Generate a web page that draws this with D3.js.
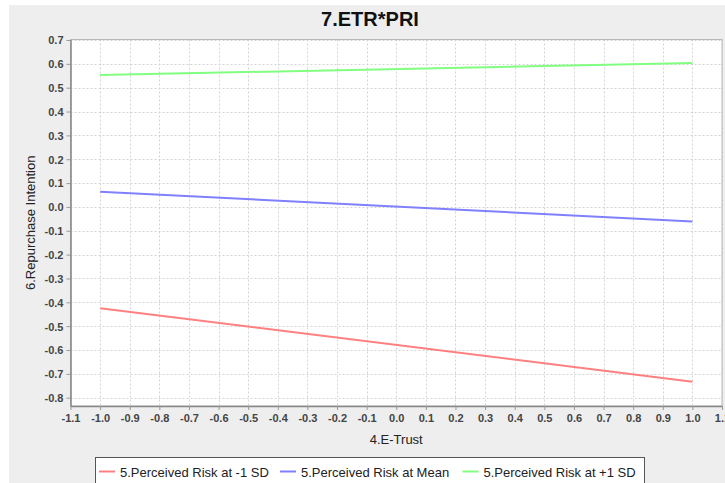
<!DOCTYPE html>
<html><head><meta charset="utf-8">
<script src="https://cdn.jsdelivr.net/npm/d3@7"></script>
<style>body{margin:0;background:#fff;}svg{display:block;font-family:"Liberation Sans",Arial,sans-serif;}</style>
</head><body>
<svg id="c" width="725" height="483"></svg>
<script>
const xValues = [-1.0, 1.0];
const seriesNames = ["5.Perceived Risk at -1 SD", "5.Perceived Risk at Mean", "5.Perceived Risk at +1 SD"];
const lowSD = [-0.425, -0.733];
const meanVals = [0.064, -0.061];
const highSD = [0.553, 0.604];
const seriesColors = ["#ff8080", "#8080ff", "#80ff80"];
const xTicks = d3.range(-11, 12).map(v => v / 10);
const yTicks = d3.range(-8, 8).map(v => v / 10);
const title = "7.ETR*PRI";
const xLabel = "4.E-Trust";
const yLabel = "6.Repurchase Intention";

const svg = d3.select("#c");
svg.append("rect").attr("x", 9).attr("y", 5).attr("width", 716).attr("height", 478).attr("fill", "#eeeeee");

const L = 70.5, R = 722, T = 39.5, B = 406;
const x = d3.scaleLinear().domain([-1.1, 1.1]).range([L, R]);
const y = d3.scaleLinear().domain([0.7 + 0.5/23.85*0.1, -0.8 - 8.3/23.85*0.1]).range([T, B]);
const fmt = d => d3.format(".1f")(d).replace("\u2212", "-");

svg.append("rect").attr("x", L).attr("y", T).attr("width", R - L).attr("height", B - T).attr("fill", "#fff");

const g = svg.append("g");
g.selectAll(".gx").data(xTicks).join("line")
  .attr("x1", d => Math.round(x(d)) + 0.5).attr("x2", d => Math.round(x(d)) + 0.5)
  .attr("y1", T).attr("y2", B).attr("stroke", "#d4d4d4").attr("stroke-dasharray", "2,2");
g.selectAll(".gy").data(yTicks).join("line")
  .attr("y1", d => Math.round(y(d)) + 0.5).attr("y2", d => Math.round(y(d)) + 0.5)
  .attr("x1", L).attr("x2", R).attr("stroke", "#d4d4d4").attr("stroke-dasharray", "2,2");

svg.append("rect").attr("x", L).attr("y", T).attr("width", R - L).attr("height", B - T)
  .attr("fill", "none").attr("stroke", "#b8b8b8");

const xAxis = svg.append("g").attr("transform", `translate(0,${B})`)
  .call(d3.axisBottom(x).tickValues(xTicks).tickFormat(fmt).tickSizeInner(4).tickSizeOuter(0).tickPadding(4));
const yAxis = svg.append("g").attr("transform", `translate(${L},0)`)
  .call(d3.axisLeft(y).tickValues(yTicks).tickFormat(fmt).tickSizeInner(4).tickSizeOuter(0).tickPadding(3));
[xAxis, yAxis].forEach(a => {
  a.select(".domain").attr("stroke", "#888").attr("stroke-width", 1.5);
  a.selectAll(".tick line").attr("stroke", "#999");
  a.selectAll(".tick text").attr("fill", "#444").attr("font-size", 11).attr("font-family", "Liberation Sans, Arial, sans-serif").attr("font-weight", "bold");
});
yAxis.selectAll(".tick text").attr("dy", "0.35em");

const data = [lowSD, meanVals, highSD];
const line = d3.line().x((d, i) => x(xValues[i])).y(d => y(d));
svg.selectAll(".series").data(data).join("path")
  .attr("d", d => line(d)).attr("fill", "none")
  .attr("stroke", (d, i) => seriesColors[i]).attr("stroke-width", 2);

svg.append("text").attr("x", 370).attr("y", 26).attr("text-anchor", "middle")
  .attr("font-size", 20).attr("font-weight", "bold").attr("fill", "#111").text(title);
svg.append("text").attr("x", (L + R) / 2).attr("y", 444).attr("text-anchor", "middle")
  .attr("font-size", 13).attr("fill", "#222").text(xLabel);
svg.append("text").attr("transform", `translate(35,${(T + B) / 2}) rotate(-90)`).attr("text-anchor", "middle")
  .attr("font-size", 13).attr("fill", "#222").text(yLabel);

// legend
const lg = svg.append("g");
lg.append("rect").attr("x", 95.5).attr("y", 457.5).attr("width", 549).attr("height", 30)
  .attr("fill", "#fff").attr("stroke", "#555");
const itemX = [99, 280, 462.5];
seriesNames.forEach((n, i) => {
  lg.append("line").attr("x1", itemX[i]).attr("x2", itemX[i] + 16).attr("y1", 471.5).attr("y2", 471.5)
    .attr("stroke", seriesColors[i]).attr("stroke-width", 2);
  lg.append("text").attr("x", itemX[i] + 21).attr("y", 476.5).attr("font-size", 13).attr("fill", "#222").text(n);
});
</script>
</body></html>
